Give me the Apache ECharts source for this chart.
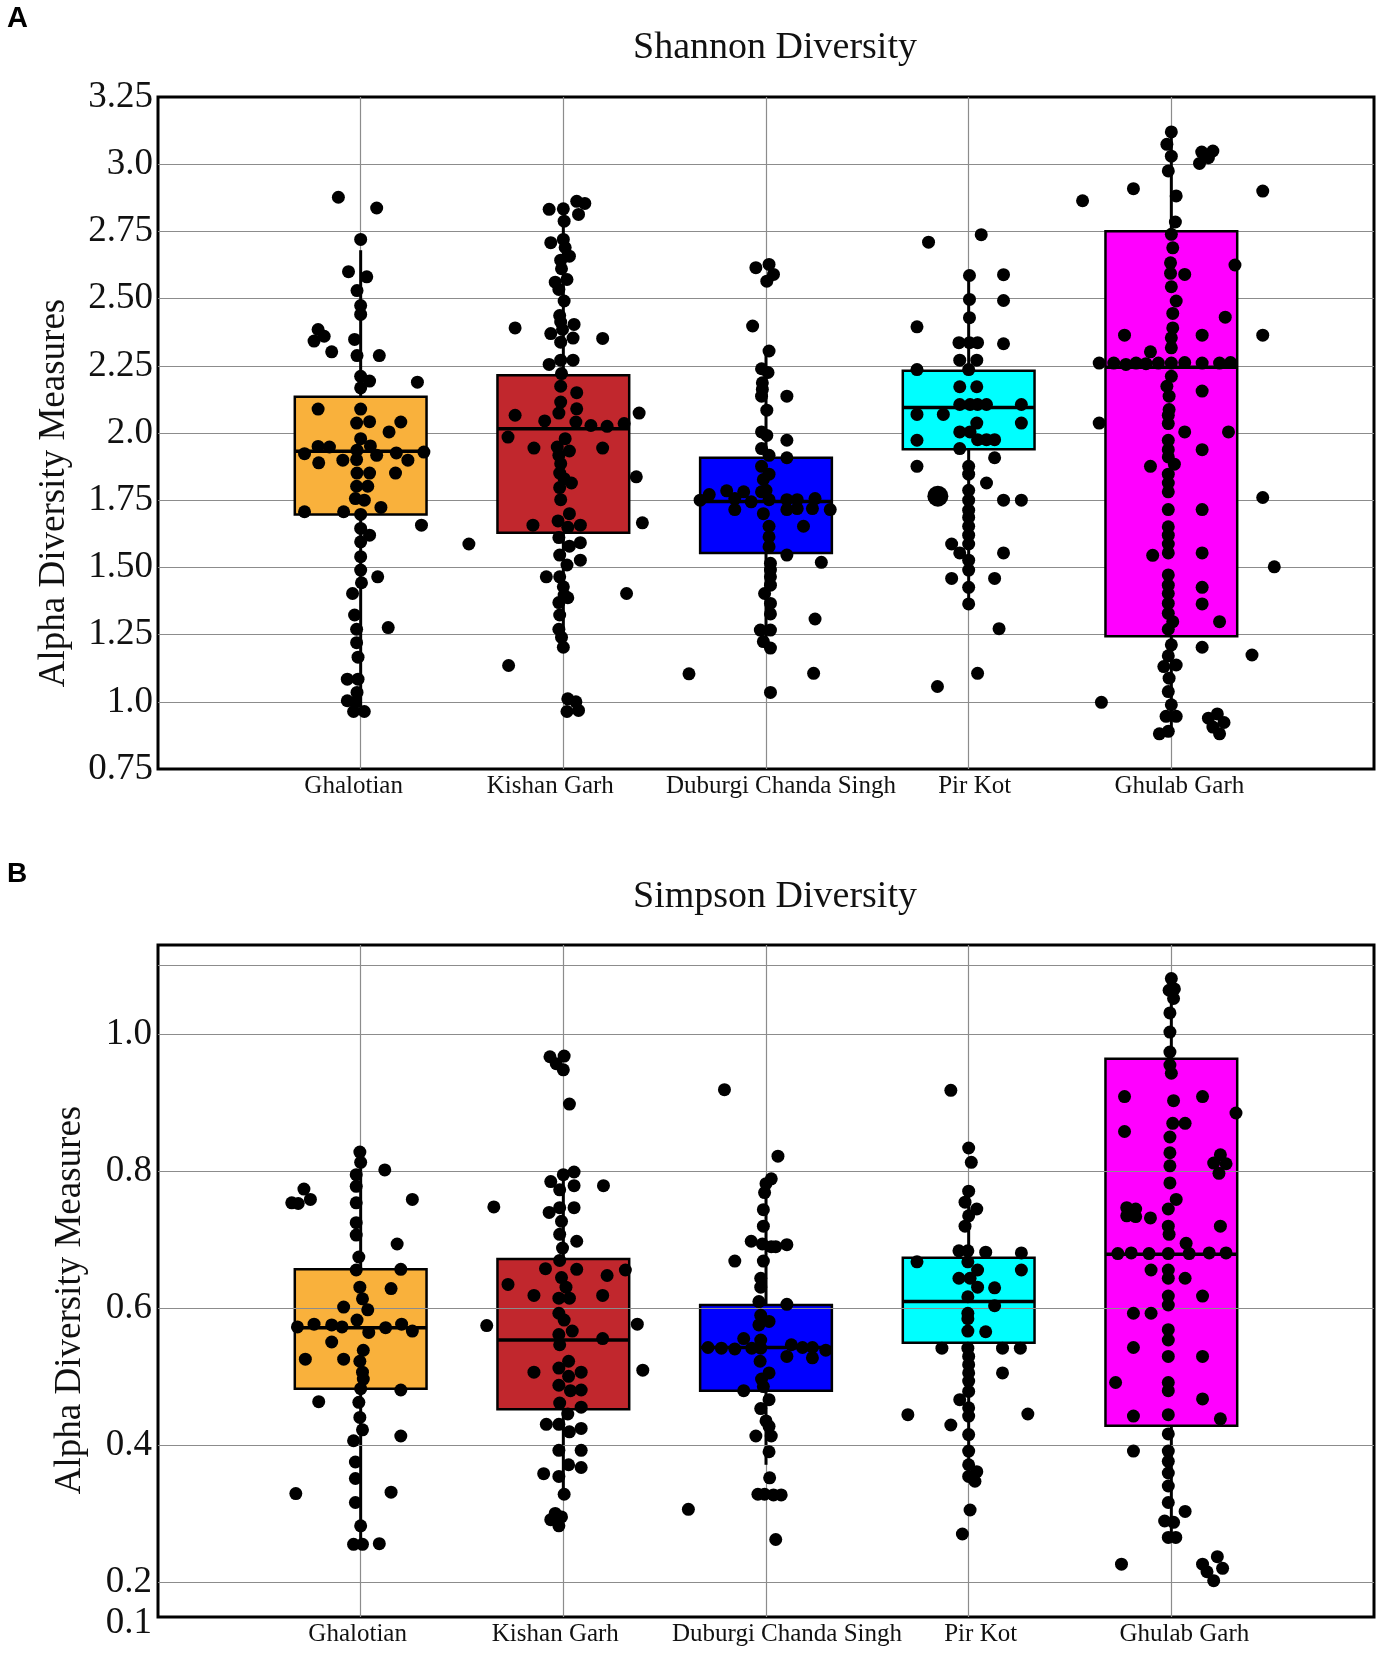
<!DOCTYPE html>
<html>
<head>
<meta charset="utf-8">
<script src="https://cdn.jsdelivr.net/npm/echarts@6/dist/echarts.min.js"></script>
<style>
  html, body { margin: 0; padding: 0; background: #fff; }
  #chart { width: 1384px; height: 1655px; }
</style>
</head>
<body>
<div id="chart"></div>
<script>
// Sites, in axis order (positions 1..5 on the x axis)
const sites = ['Ghalotian', 'Kishan Garh', 'Duburgi Chanda Singh', 'Pir Kot', 'Ghulab Garh']
const boxColors = ['#F9B13C', '#C1272D', '#0000FF', '#00FFFF', '#FF00FF']

// Box stats per site: [lower whisker, Q1, median, Q3, upper whisker]
const shannonBoxes = [
  [0.97, 1.697, 1.932, 2.135, 2.68],
  [1.19, 1.629, 2.016, 2.215, 2.77],
  [1.20, 1.554, 1.745, 1.908, 2.30],
  [1.38, 1.940, 2.095, 2.232, 2.58],
  [0.886, 1.244, 2.245, 2.751, 3.116]
]
const simpsonBoxes = [
  [0.256, 0.483, 0.572, 0.657, 0.81],
  [0.329, 0.453, 0.554, 0.672, 0.79],
  [0.372, 0.480, 0.543, 0.605, 0.79],
  [0.348, 0.550, 0.610, 0.674, 0.77],
  [0.266, 0.429, 0.679, 0.964, 1.078]
]

// Individual samples: [swarm offset from the site position, value]
const shannonGhalotian = [
  [-0.11,2.877],[0.079,2.837],[0,2.72],[-0.06,2.60],[0.03,2.581],[-0.018,2.53],[0,2.474],[0,2.441],
  [-0.21,2.385],[-0.18,2.36],[-0.23,2.342],[-0.03,2.348],[-0.143,2.302],[-0.018,2.288],[0.092,2.288],
  [0,2.211],[0.044,2.193],[0.28,2.189],[0,2.168],[-0.21,2.089],[0,2.089],[-0.02,2.037],[0.044,2.042],
  [0.198,2.041],[0.14,2.004],[0,1.979],[-0.21,1.95],[-0.154,1.948],[0.048,1.952],[-0.277,1.923],
  [-0.018,1.936],[0.079,1.917],[0.176,1.926],[0.312,1.929],[-0.207,1.889],[-0.088,1.899],[-0.02,1.901],
  [0.233,1.899],[-0.018,1.851],[0.044,1.851],[0.172,1.851],[-0.02,1.802],[0.035,1.802],[-0.026,1.756],
  [0.018,1.75],[0.1,1.723],[-0.277,1.707],[-0.084,1.707],[0,1.697],[0.3,1.657],[0,1.645],[0.044,1.62],
  [0,1.595],[0,1.54],[0,1.49],[0.084,1.465],[0.004,1.443],[-0.04,1.403],[-0.03,1.323],[-0.02,1.27],
  [0.136,1.276],[-0.02,1.22],[-0.013,1.166],[-0.066,1.084],[-0.013,1.084],[-0.018,1.035],[-0.066,1.004],
  [-0.026,0.998],[-0.035,0.964],[0.018,0.964]
]
const shannonKishan = [
  [-0.07,2.832],[0,2.834],[0.066,2.862],[0.106,2.854],[0.075,2.813],[0.004,2.788],[-0.062,2.708],[0,2.72],
  [0.009,2.69],[0.03,2.658],[-0.013,2.643],[-0.009,2.611],[-0.04,2.561],[0.018,2.571],[-0.022,2.534],
  [0.004,2.491],[-0.238,2.391],[-0.018,2.437],[-0.013,2.413],[0.053,2.404],[-0.004,2.385],[-0.062,2.37],
  [0.048,2.353],[0.194,2.352],[-0.013,2.338],[-0.013,2.271],[0.048,2.271],[-0.07,2.255],[-0.009,2.221],
  [-0.013,2.174],[0.066,2.15],[-0.013,2.115],[0.066,2.09],[-0.238,2.066],[-0.022,2.074],[-0.092,2.045],
  [0.062,2.041],[0.136,2.028],[0.216,2.025],[0.3,2.035],[0.374,2.074],[-0.273,1.985],[0.009,1.979],
  [-0.145,1.944],[-0.03,1.948],[0.03,1.933],[0.194,1.944],[-0.022,1.917],[-0.013,1.886],[-0.018,1.851],
  [0.004,1.83],[0.36,1.837],[0.04,1.814],[-0.018,1.797],[-0.013,1.752],[0.03,1.7],[-0.026,1.673],
  [-0.15,1.657],[0.084,1.657],[0.39,1.666],[0.022,1.649],[-0.022,1.611],[0.084,1.592],[0.03,1.579],
  [-0.018,1.546],[0.084,1.527],[0.018,1.509],[-0.084,1.465],[-0.018,1.465],[0,1.428],[0.004,1.397],
  [0.022,1.387],[0.312,1.403],[-0.022,1.369],[-0.018,1.323],[-0.022,1.27],[-0.009,1.24],[0,1.203],
  [-0.27,1.135],[0.022,1.011],[0.062,1.0],[0.018,0.964],[0.075,0.968],[-0.466,1.587]
]
const shannonDuburgi = [
  [-0.05,2.615],[0.015,2.627],[0.037,2.59],[0.004,2.565],[-0.066,2.398],[0.015,2.305],[-0.022,2.239],
  [0.01,2.225],[-0.018,2.187],[-0.018,2.162],[-0.022,2.137],[0.103,2.137],[0.004,2.085],[-0.022,2.004],
  [0.004,1.991],[0.103,1.973],[-0.022,1.942],[0.015,1.917],[0.103,1.908],[-0.022,1.876],[0.015,1.847],
  [-0.013,1.827],[0,1.787],[-0.28,1.771],[-0.194,1.785],[-0.11,1.781],[-0.325,1.75],[-0.154,1.756],
  [-0.073,1.744],[-0.022,1.781],[0.015,1.752],[0.103,1.752],[0.154,1.752],[0.242,1.756],[-0.154,1.715],
  [0.103,1.715],[0.154,1.719],[0.229,1.719],[0.317,1.715],[-0.013,1.7],[0.015,1.653],[0.185,1.653],
  [0.015,1.614],[0.015,1.577],[0.103,1.546],[0.022,1.515],[0.273,1.519],[0.022,1.49],[0.022,1.465],
  [0.022,1.434],[-0.007,1.403],[0.022,1.366],[0.022,1.327],[-0.028,1.267],[0.022,1.267],[0.242,1.308],
  [-0.013,1.224],[0.022,1.2],[-0.38,1.104],[0.235,1.106],[0.022,1.035]
]
const shannonPirKot = [
  [0.062,2.738],[-0.198,2.71],[0.004,2.586],[0.172,2.589],[0.004,2.497],[0.172,2.493],[0.004,2.429],
  [-0.255,2.395],[-0.048,2.336],[0.004,2.336],[0.044,2.336],[0.172,2.332],[-0.044,2.271],[0.04,2.271],
  [-0.255,2.236],[0,2.236],[-0.044,2.172],[0.04,2.172],[-0.044,2.106],[0.007,2.106],[0.044,2.106],
  [0.088,2.106],[0.26,2.106],[-0.255,2.069],[-0.125,2.069],[0.04,2.037],[0.26,2.037],[-0.044,2.004],
  [0.007,2.004],[-0.255,1.973],[0.044,1.975],[0.088,1.975],[0.128,1.975],[-0.044,1.942],[0.128,1.908],
  [-0.255,1.876],[0,1.876],[0,1.847],[0.088,1.814],[0,1.787],[0.172,1.75],[0.26,1.75],[0,1.75],[0,1.713],
  [0,1.686],[0,1.653],[0,1.62],[0,1.587],[-0.084,1.587],[-0.044,1.554],[0.172,1.554],[0,1.527],[0,1.49],
  [-0.084,1.459],[0.128,1.459],[0,1.426],[0,1.364],[0.15,1.272],[0.044,1.106],[-0.154,1.057]
]
const shannonPirKotLarge = [[-0.152, 1.765]]
const shannonGhulab = [
  [0,3.12],[-0.022,3.074],[0,3.03],[0.15,3.045],[0.205,3.049],[0.183,3.024],[0.139,3.003],[-0.015,2.975],
  [-0.187,2.909],[-0.438,2.864],[0.451,2.9],[0.024,2.882],[0.02,2.785],[0,2.739],[0.007,2.689],
  [-0.004,2.633],[0.314,2.625],[-0.004,2.594],[0.066,2.59],[0,2.544],[0.024,2.491],[0.007,2.445],
  [0.266,2.431],[0.007,2.391],[0,2.354],[-0.231,2.364],[0.152,2.364],[0.451,2.364],[0,2.317],[-0.103,2.302],
  [-0.356,2.26],[-0.284,2.26],[-0.224,2.255],[-0.174,2.26],[-0.125,2.258],[-0.064,2.26],[0,2.26],
  [0.066,2.262],[0.152,2.26],[0.238,2.26],[0.292,2.262],[0,2.211],[-0.022,2.174],[0.152,2.156],
  [-0.011,2.137],[-0.011,2.087],[-0.356,2.037],[-0.015,2.066],[-0.015,2.035],[0.066,2.004],[0.282,2.004],
  [-0.015,1.973],[0.152,1.938],[-0.015,1.938],[-0.015,1.911],[-0.103,1.876],[0.015,1.884],[-0.015,1.847],
  [-0.015,1.814],[-0.015,1.781],[0.451,1.76],[-0.015,1.715],[0.152,1.715],[-0.015,1.651],[-0.015,1.62],
  [-0.015,1.587],[-0.015,1.554],[-0.092,1.545],[0.152,1.554],[0.508,1.502],[-0.015,1.472],[-0.015,1.434],
  [-0.015,1.403],[0.152,1.426],[-0.015,1.366],[0.152,1.364],[-0.015,1.329],[0.007,1.298],[0.238,1.298],
  [-0.015,1.27],[0,1.212],[0.152,1.203],[0.398,1.174],[-0.015,1.171],[-0.037,1.131],[0.024,1.137],
  [-0.011,1.088],[-0.015,1.038],[-0.345,0.998],[0,0.989],[0.024,0.946],[-0.026,0.946],[0.183,0.939],
  [0.227,0.955],[0.26,0.923],[0.205,0.906],[0.238,0.881],[-0.059,0.881],[-0.015,0.89]
]

const simpsonGhalotian = [
  [-0.004,0.828],[0,0.813],[0.119,0.802],[-0.022,0.795],[-0.022,0.778],[-0.34,0.754],[-0.308,0.753],
  [-0.28,0.774],[-0.248,0.759],[0.255,0.759],[-0.022,0.754],[-0.022,0.725],[-0.022,0.707],[0.18,0.694],
  [-0.009,0.675],[-0.022,0.656],[0.198,0.657],[-0.004,0.631],[0.15,0.629],[0.009,0.614],[-0.084,0.602],
  [0.035,0.598],[-0.018,0.583],[-0.312,0.573],[-0.23,0.577],[-0.143,0.576],[-0.092,0.573],[0.04,0.565],
  [0.123,0.572],[0.202,0.577],[0.255,0.567],[-0.143,0.551],[0.013,0.539],[-0.273,0.526],[-0.084,0.526],
  [-0.004,0.523],[0.009,0.507],[0.013,0.497],[0,0.483],[0.198,0.481],[-0.207,0.464],[-0.009,0.463],
  [-0.004,0.441],[0.009,0.423],[0.198,0.414],[-0.035,0.407],[-0.026,0.376],[-0.026,0.352],[-0.32,0.33],
  [0.15,0.332],[-0.026,0.317],[0,0.283],[-0.035,0.256],[0.009,0.256],[0.092,0.257]
]
const simpsonKishan = [
  [-0.066,0.967],[0.004,0.968],[-0.035,0.957],[0,0.948],[0.03,0.898],[0,0.795],[0.053,0.799],[-0.062,0.785],
  [-0.018,0.773],[0.053,0.779],[0.198,0.779],[-0.018,0.747],[0.053,0.747],[-0.07,0.74],[-0.343,0.748],
  [-0.009,0.727],[-0.018,0.708],[0.066,0.698],[-0.004,0.688],[-0.018,0.67],[-0.088,0.658],[0.066,0.657],
  [0.216,0.648],[0.306,0.656],[-0.273,0.635],[-0.009,0.645],[0.013,0.631],[-0.145,0.619],[-0.022,0.615],
  [0.03,0.615],[0.194,0.619],[-0.022,0.593],[0.004,0.583],[-0.378,0.575],[0.365,0.577],[0.044,0.567],
  [-0.022,0.562],[0.194,0.556],[-0.018,0.547],[0.026,0.523],[-0.145,0.507],[-0.022,0.513],[0.088,0.507],
  [0.026,0.501],[0.392,0.51],[-0.022,0.488],[0.035,0.48],[0.088,0.481],[-0.018,0.462],[0.088,0.456],
  [0.022,0.446],[-0.084,0.431],[-0.022,0.431],[0.088,0.425],[0.03,0.42],[-0.022,0.393],[0.088,0.393],
  [0.026,0.372],[0.088,0.368],[-0.097,0.359],[-0.022,0.355],[0.004,0.329],[-0.04,0.301],[-0.009,0.296],
  [-0.062,0.292],[-0.022,0.283]
]
const simpsonDuburgi = [
  [-0.205,0.919],[0.059,0.822],[0.026,0.789],[0,0.782],[-0.007,0.769],[-0.013,0.744],[-0.013,0.72],
  [-0.073,0.698],[-0.018,0.694],[0.026,0.69],[0.048,0.69],[0.103,0.693],[-0.154,0.669],[-0.013,0.669],
  [-0.026,0.644],[-0.026,0.631],[-0.035,0.61],[0.103,0.606],[-0.026,0.59],[0.015,0.581],[-0.035,0.576],
  [-0.11,0.556],[-0.026,0.554],[-0.286,0.543],[-0.22,0.542],[-0.154,0.541],[-0.07,0.542],[-0.026,0.542],
  [0.125,0.547],[0.18,0.543],[0.229,0.543],[0.295,0.539],[-0.029,0.523],[0.103,0.53],[0.229,0.528],
  [0.015,0.506],[-0.022,0.497],[-0.013,0.486],[-0.11,0.48],[0.015,0.467],[-0.026,0.454],[0,0.436],
  [0.015,0.428],[-0.05,0.414],[0.026,0.414],[0.015,0.391],[0.018,0.353],[-0.04,0.329],[-0.007,0.329],
  [0.037,0.328],[0.075,0.328],[-0.383,0.307],[0.048,0.263]
]
const simpsonPirKot = [
  [-0.088,0.918],[0,0.834],[0.013,0.813],[0,0.771],[-0.018,0.755],[0.04,0.745],[0,0.735],[-0.018,0.72],
  [-0.048,0.684],[-0.004,0.684],[0.084,0.682],[0.26,0.681],[-0.255,0.668],[-0.004,0.668],[0.044,0.656],
  [0.26,0.656],[-0.048,0.644],[0.007,0.644],[0.044,0.631],[0.128,0.63],[-0.004,0.617],[0.128,0.604],
  [-0.004,0.593],[-0.004,0.585],[-0.004,0.567],[0.084,0.566],[-0.132,0.542],[-0.004,0.542],[0.167,0.542],
  [0.255,0.542],[0,0.53],[0,0.518],[0,0.506],[0,0.494],[0.167,0.506],[0,0.479],[-0.044,0.467],[0,0.455],
  [0,0.443],[-0.3,0.445],[0.292,0.446],[-0.088,0.43],[0,0.416],[0,0.392],[0,0.372],[0.04,0.362],[0,0.355],
  [0.031,0.348],[0.007,0.306],[-0.031,0.271]
]
const simpsonGhulab = [
  [0,1.081],[-0.011,1.064],[0.015,1.066],[0.011,1.052],[-0.007,1.031],[-0.007,1.003],[-0.007,0.974],
  [-0.007,0.955],[0,0.943],[-0.231,0.909],[0.011,0.903],[0.154,0.909],[0.319,0.885],[-0.231,0.858],
  [0.007,0.87],[0.068,0.87],[-0.007,0.85],[-0.007,0.827],[-0.007,0.808],[0.242,0.824],[0.209,0.812],
  [0.27,0.811],[0.235,0.797],[-0.007,0.783],[0.024,0.759],[-0.015,0.745],[-0.22,0.747],[-0.176,0.745],
  [-0.22,0.735],[-0.176,0.734],[-0.103,0.732],[-0.015,0.72],[-0.011,0.708],[0.242,0.72],[-0.264,0.68],
  [-0.198,0.681],[-0.11,0.68],[-0.015,0.68],[0.088,0.68],[0.187,0.681],[0.27,0.681],[0.073,0.695],
  [-0.1,0.656],[-0.015,0.656],[-0.015,0.644],[0.068,0.644],[0.154,0.618],[-0.015,0.618],[-0.015,0.605],
  [-0.187,0.593],[-0.1,0.593],[-0.015,0.569],[-0.015,0.554],[-0.187,0.543],[-0.015,0.53],[0.154,0.53],
  [-0.275,0.492],[-0.015,0.492],[-0.015,0.48],[0.154,0.468],[-0.187,0.443],[-0.015,0.445],[0.242,0.439],
  [-0.015,0.417],[-0.015,0.392],[-0.187,0.392],[-0.015,0.377],[-0.015,0.36],[-0.015,0.341],[-0.015,0.317],
  [0.068,0.304],[-0.033,0.29],[0.011,0.288],[-0.015,0.266],[0.022,0.266],[-0.246,0.227],[0.154,0.227],
  [0.227,0.238],[0.253,0.221],[0.176,0.216],[0.209,0.203]
]

// Tick labels as printed on the figure
const shannonTickLabels = ['0.75', '1.0', '1.25', '1.50', '1.75', '2.0', '2.25', '2.50', '2.75', '3.0', '3.25']
const simpsonTickValues = [0.15, 0.2, 0.4, 0.6, 0.8, 1.0]
const simpsonTickLabels = ['0.1', '0.2', '0.4', '0.6', '0.8', '1.0']
const simpsonGridValues = [0.2, 0.4, 0.6, 0.8, 1.0, 1.1]

const SERIF = '"Liberation Serif", "Times New Roman", serif'
const TEXT = '#111'
const GRID_GRAY = '#8c8c8c'
const BOX_HALF = 0.325
// horizontal nudges (px) of the site labels, as placed in the original figure
const labelShiftA = [-7, -13, 15, 6, 8]
const labelShiftB = [-3, -8, 21, 12, 13]

function toPoints(groups) {
  const out = []
  groups.forEach((g, i) => g.forEach(([dx, v]) => out.push([i + 1 + dx, v])))
  return out
}

function renderBox(params, api) {
  const x = api.value(0)
  const lo = api.value(1), q1 = api.value(2), med = api.value(3), q3 = api.value(4), hi = api.value(5)
  const tl = api.coord([x - BOX_HALF, q3])
  const br = api.coord([x + BOX_HALF, q1])
  const mL = api.coord([x - BOX_HALF, med])
  const mR = api.coord([x + BOX_HALF, med])
  const pHi = api.coord([x, hi])
  const pQ3 = api.coord([x, q3])
  const pQ1 = api.coord([x, q1])
  const pLo = api.coord([x, lo])
  const line = (a, b, w) => ({
    type: 'line',
    shape: { x1: a[0], y1: a[1], x2: b[0], y2: b[1] },
    style: { stroke: '#000', lineWidth: w }
  })
  return {
    type: 'group',
    children: [
      line(pHi, pQ3, 3),
      line(pQ1, pLo, 3),
      {
        type: 'rect',
        shape: { x: tl[0], y: tl[1], width: br[0] - tl[0], height: br[1] - tl[1] },
        style: { fill: boxColors[params.dataIndex], stroke: '#000', lineWidth: 2.5 }
      },
      line(mL, mR, 3.5)
    ]
  }
}

function xAxisFor(gridIndex, shifts) {
  const rich = {}
  shifts.forEach((s, i) => {
    rich['s' + i] = { padding: s >= 0 ? [0, 0, 0, 2 * s] : [0, -2 * s, 0, 0] }
  })
  return {
    type: 'value', gridIndex, min: 0, max: 6, interval: 1,
    axisLine: { show: false }, axisTick: { show: false },
    splitLine: { show: true, showMinLine: false, showMaxLine: false, lineStyle: { color: GRID_GRAY, width: 1.2 } },
    axisLabel: {
      margin: 5, fontFamily: SERIF, fontSize: 25, color: TEXT, rich,
      formatter: v => {
        const i = Math.round(v) - 1
        return sites[i] ? '{s' + i + '|' + sites[i] + '}' : ''
      }
    }
  }
}

const chart = echarts.init(document.getElementById('chart'), null, { renderer: 'canvas' })

const option = {
  animation: false,
  backgroundColor: '#fff',
  grid: [
    { left: 158, right: 10, top: 97, height: 672, show: true, borderColor: '#000', borderWidth: 3, backgroundColor: 'transparent' },
    { left: 158, right: 10, top: 945, height: 672, show: true, borderColor: '#000', borderWidth: 3, backgroundColor: 'transparent' }
  ],
  xAxis: [xAxisFor(0, labelShiftA), xAxisFor(1, labelShiftB)],
  yAxis: [
    {
      type: 'value', gridIndex: 0, min: 0.75, max: 3.25, interval: 0.25,
      axisLine: { show: false }, axisTick: { show: false },
      splitLine: { show: true, showMinLine: false, showMaxLine: false, lineStyle: { color: GRID_GRAY, width: 1.2 } },
      axisLabel: {
        margin: 5, fontFamily: SERIF, fontSize: 37, color: TEXT, showMinLabel: true, showMaxLabel: true,
        formatter: v => shannonTickLabels[Math.round((v - 0.75) / 0.25)] || ''
      },
      name: 'Alpha Diversity Measures', nameLocation: 'middle', nameGap: 85, nameRotate: 90,
      nameTextStyle: { fontFamily: SERIF, fontSize: 37, color: TEXT, padding: [0, 120, 0, 0] }
    },
    {
      type: 'value', gridIndex: 1, min: 0.15, max: 1.13, interval: 0.05,
      axisLine: { show: false }, axisTick: { show: false },
      splitLine: { show: false },
      axisLabel: {
        margin: 6, fontFamily: SERIF, fontSize: 37, lineHeight: 20, color: TEXT,
        showMinLabel: true, showMaxLabel: false, hideOverlap: false,
        rich: { low: { padding: [12, 0, 0, 0] } },
        formatter: v => {
          const i = simpsonTickValues.findIndex(t => Math.abs(t - v) < 1e-6)
          if (i < 0) return ''
          return i === 0 ? '{low|' + simpsonTickLabels[i] + '}' : simpsonTickLabels[i]
        }
      },
      name: 'Alpha Diversity Measures', nameLocation: 'middle', nameGap: 69, nameRotate: 90,
      nameTextStyle: { fontFamily: SERIF, fontSize: 37, color: TEXT, padding: [0, 38, 0, 0] }
    }
  ],
  graphic: [
    { type: 'text', x: 775, y: 48, style: { text: 'Shannon Diversity', font: '38px ' + SERIF, fill: TEXT, align: 'center', verticalAlign: 'middle' } },
    { type: 'text', x: 775, y: 897, style: { text: 'Simpson Diversity', font: '38px ' + SERIF, fill: TEXT, align: 'center', verticalAlign: 'middle' } },
    { type: 'text', x: 7, y: 19, style: { text: 'A', font: 'bold 29px "Liberation Sans", Arial, sans-serif', fill: '#000', align: 'left', verticalAlign: 'middle' } },
    { type: 'text', x: 7, y: 874, style: { text: 'B', font: 'bold 28px "Liberation Sans", Arial, sans-serif', fill: '#000', align: 'left', verticalAlign: 'middle' } }
  ],
  series: [
    {
      // extra gridlines of the Simpson panel (incl. the unlabelled 1.1 line)
      type: 'line', xAxisIndex: 1, yAxisIndex: 1, data: [], z: 1, silent: true,
      markLine: {
        silent: true, symbol: ['none', 'none'], label: { show: false },
        lineStyle: { color: GRID_GRAY, width: 1.2, type: 'solid' },
        data: simpsonGridValues.map(v => ({ yAxis: v }))
      }
    },
    {
      type: 'custom', xAxisIndex: 0, yAxisIndex: 0, z: 3, silent: true,
      renderItem: renderBox,
      encode: { x: 0, y: [1, 2, 3, 4, 5] },
      data: shannonBoxes.map((b, i) => [i + 1, ...b])
    },
    {
      type: 'custom', xAxisIndex: 1, yAxisIndex: 1, z: 3, silent: true,
      renderItem: renderBox,
      encode: { x: 0, y: [1, 2, 3, 4, 5] },
      data: simpsonBoxes.map((b, i) => [i + 1, ...b])
    },
    {
      type: 'scatter', xAxisIndex: 0, yAxisIndex: 0, z: 5, silent: true,
      symbolSize: 13, itemStyle: { color: '#000', opacity: 1 },
      data: toPoints([shannonGhalotian, shannonKishan, shannonDuburgi, shannonPirKot, shannonGhulab])
    },
    {
      type: 'scatter', xAxisIndex: 0, yAxisIndex: 0, z: 5, silent: true,
      symbolSize: 21, itemStyle: { color: '#000', opacity: 1 },
      data: toPoints([[], [], [], shannonPirKotLarge, []])
    },
    {
      type: 'scatter', xAxisIndex: 1, yAxisIndex: 1, z: 5, silent: true,
      symbolSize: 13, itemStyle: { color: '#000', opacity: 1 },
      data: toPoints([simpsonGhalotian, simpsonKishan, simpsonDuburgi, simpsonPirKot, simpsonGhulab])
    }
  ]
}

chart.setOption(option)
</script>
</body>
</html>
